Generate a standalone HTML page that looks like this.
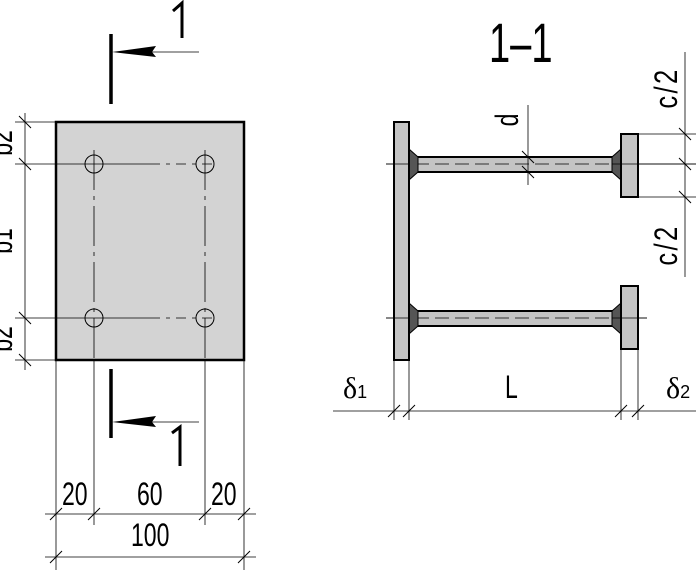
<!DOCTYPE html>
<html><head><meta charset="utf-8"><style>html,body{margin:0;padding:0;background:#fff}svg{display:block}text{font-family:"Liberation Sans",sans-serif;fill:#000}</style></head><body>
<svg width="696" height="580" viewBox="0 0 696 580" xmlns="http://www.w3.org/2000/svg">
<g stroke="#000" fill="none" stroke-width="1">
<rect x="56" y="122" width="188" height="238" fill="#d3d3d3" stroke-width="2.5"/>
<line x1="94" y1="150" x2="94" y2="360" stroke-dasharray="40,6,4,6" stroke-width="0.8"/>
<line x1="205" y1="150" x2="205" y2="360" stroke-dasharray="40,6,4,6" stroke-width="0.8"/>
<line x1="94" y1="360" x2="94" y2="525" stroke-width="0.8"/>
<line x1="205" y1="360" x2="205" y2="525" stroke-width="0.8"/>
<line x1="15" y1="164" x2="150" y2="164" stroke-width="0.8"/>
<line x1="150" y1="164" x2="215" y2="164" stroke-dasharray="10,6,4,6" stroke-width="0.8"/>
<line x1="15" y1="318" x2="150" y2="318" stroke-width="0.8"/>
<line x1="150" y1="318" x2="215" y2="318" stroke-dasharray="10,6,4,6" stroke-width="0.8"/>
<line x1="15" y1="122" x2="56" y2="122" stroke-width="0.8"/>
<line x1="15" y1="360" x2="56" y2="360" stroke-width="0.8"/>
<line x1="56" y1="360" x2="56" y2="570" stroke-width="0.8"/>
<line x1="244" y1="360" x2="244" y2="570" stroke-width="0.8"/>
<circle cx="94" cy="164" r="9"/><circle cx="205" cy="164" r="9"/>
<circle cx="94" cy="318" r="9"/><circle cx="205" cy="318" r="9"/>
<line x1="25" y1="113" x2="25" y2="370" stroke-width="0.8"/>
<g><line x1="19" y1="116" x2="31" y2="128"/><line x1="19" y1="158" x2="31" y2="170"/><line x1="19" y1="312" x2="31" y2="324"/><line x1="19" y1="354" x2="31" y2="366"/></g>
<line x1="45" y1="514" x2="256" y2="514" stroke-width="0.8"/>
<line x1="45" y1="557" x2="256" y2="557" stroke-width="0.8"/>
<g><line x1="50" y1="520" x2="62" y2="508"/><line x1="88" y1="520" x2="100" y2="508"/><line x1="199" y1="520" x2="211" y2="508"/><line x1="238" y1="520" x2="250" y2="508"/><line x1="50" y1="563" x2="62" y2="551"/><line x1="238" y1="563" x2="250" y2="551"/></g>
<line x1="111" y1="34" x2="111" y2="104" stroke-width="3.5"/>
<line x1="150" y1="52" x2="199" y2="52" stroke-width="0.8"/>
<line x1="111" y1="369" x2="111" y2="438" stroke-width="3.5"/>
<line x1="150" y1="422" x2="199" y2="422" stroke-width="0.8"/>
<polyline points="173,11 182,3 182,38" stroke-width="3"/>
<polyline points="172,433 180,427 180,466" stroke-width="3"/>
</g>
<polygon points="112,52 156,46 152,52 156,57" fill="#000"/>
<polygon points="112,422 156,416 152,422 156,427" fill="#000"/>
<g font-size="32">
<text transform="translate(62,505) scale(0.72,1)">20</text>
<text transform="translate(137,505) scale(0.72,1)">60</text>
<text transform="translate(211,505) scale(0.72,1)">20</text>
<text transform="translate(131,546) scale(0.72,1)">100</text>
<text transform="translate(12,143) rotate(-90) scale(0.72,1)" text-anchor="middle">b2</text>
<text transform="translate(12,241) rotate(-90) scale(0.72,1)" text-anchor="middle">b1</text>
<text transform="translate(12,339) rotate(-90) scale(0.72,1)" text-anchor="middle">b2</text>
</g>
<g stroke="#000" fill="none">
<line x1="386" y1="164" x2="696" y2="164" stroke-width="0.8"/>
<line x1="386" y1="318" x2="647" y2="318" stroke-width="0.8"/>
<rect x="409" y="157" width="212" height="15" fill="#c4c4c4" stroke-width="2"/>
<rect x="409" y="311" width="212" height="15" fill="#c4c4c4" stroke-width="2"/>
<line x1="415" y1="164" x2="615" y2="164" stroke-dasharray="14,6" stroke-width="0.8"/>
<line x1="415" y1="318" x2="615" y2="318" stroke-dasharray="14,6" stroke-width="0.8"/>
<polygon points="409,149 418,157 418,172 409,180" fill="#555" stroke-width="1"/>
<polygon points="409,303 418,311 418,326 409,334" fill="#555" stroke-width="1"/>
<polygon points="621,149 612,157 612,172 621,180" fill="#555" stroke-width="1"/>
<polygon points="621,303 612,311 612,326 621,334" fill="#555" stroke-width="1"/>
<rect x="394" y="122" width="15" height="238" fill="#c4c4c4" stroke-width="2"/>
<rect x="621" y="134" width="17" height="63" fill="#c4c4c4" stroke-width="2"/>
<rect x="621" y="286" width="17" height="63" fill="#c4c4c4" stroke-width="2"/>
<line x1="386" y1="164" x2="409" y2="164" stroke-width="0.8"/>
<line x1="386" y1="318" x2="409" y2="318" stroke-width="0.8"/>
<line x1="612" y1="318" x2="647" y2="318" stroke-width="0.8"/>
<line x1="612" y1="164" x2="696" y2="164" stroke-width="0.8"/>
<g stroke-width="0.8">
<line x1="638" y1="134" x2="696" y2="134"/><line x1="638" y1="197" x2="696" y2="197"/>
<line x1="685" y1="52" x2="685" y2="277"/>
<line x1="528" y1="105" x2="528" y2="185"/>
<line x1="394" y1="360" x2="394" y2="420"/><line x1="409" y1="360" x2="409" y2="420"/>
<line x1="621" y1="349" x2="621" y2="420"/><line x1="638" y1="349" x2="638" y2="420"/>
<line x1="333" y1="411" x2="696" y2="411"/>
</g>
<g stroke-width="1">
<line x1="679" y1="128" x2="691" y2="140"/><line x1="679" y1="158" x2="691" y2="170"/><line x1="679" y1="191" x2="691" y2="203"/>
<line x1="522" y1="151" x2="534" y2="163"/><line x1="522" y1="166" x2="534" y2="178"/>
<line x1="388" y1="417" x2="400" y2="405"/><line x1="403" y1="417" x2="415" y2="405"/>
<line x1="615" y1="417" x2="627" y2="405"/><line x1="632" y1="417" x2="644" y2="405"/>
</g>
</g>
<text transform="translate(489,62) scale(0.68,1)" font-size="56">1–1</text>
<g font-size="32">
<text transform="translate(505,398) scale(0.72,1)">L</text>
<text transform="translate(677,88) rotate(-90) scale(0.8,1)" text-anchor="middle" letter-spacing="3">c/2</text>
<text transform="translate(677,245) rotate(-90) scale(0.8,1)" text-anchor="middle" letter-spacing="3">c/2</text>
<text transform="translate(518,120) rotate(-90) scale(0.72,1)" text-anchor="middle">d</text>
</g>
<text x="343" y="398" font-size="30" font-family="Liberation Serif" style="font-family:'Liberation Serif',serif">δ<tspan font-size="18" style="font-family:'Liberation Sans',sans-serif">1</tspan></text>
<text x="666" y="398" font-size="30" style="font-family:'Liberation Serif',serif">δ<tspan font-size="18" style="font-family:'Liberation Sans',sans-serif">2</tspan></text>
</svg>
</body></html>
